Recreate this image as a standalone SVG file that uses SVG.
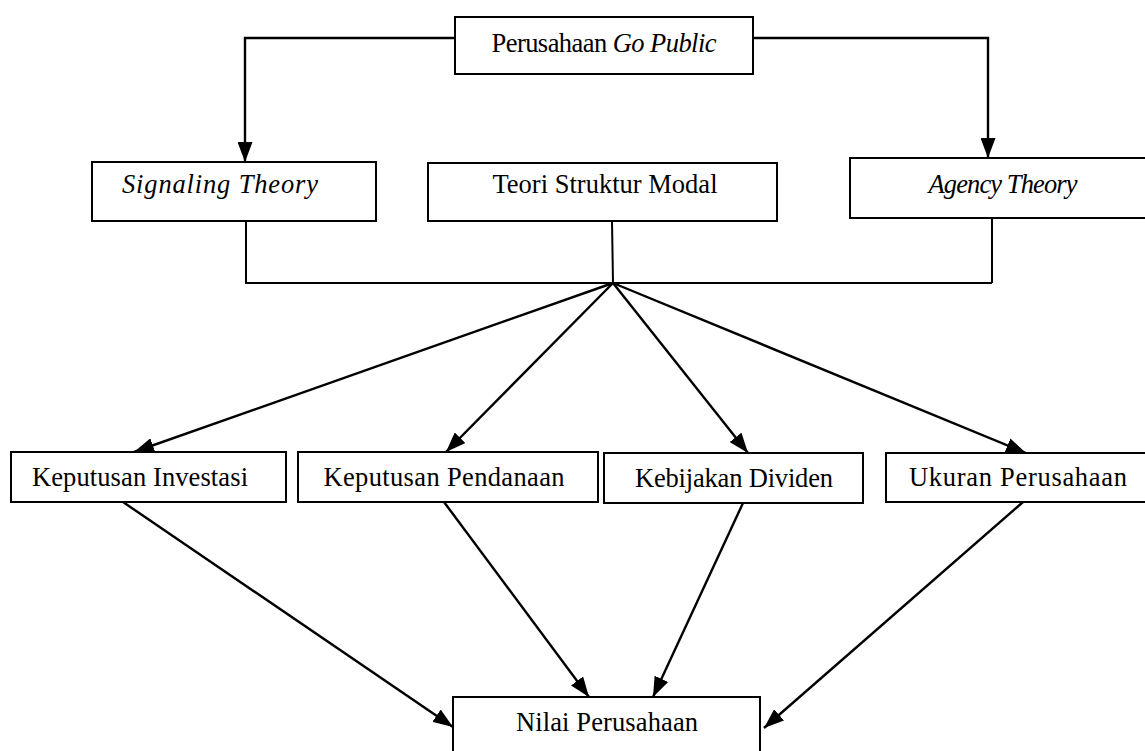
<svg xmlns="http://www.w3.org/2000/svg" width="1145" height="751" viewBox="0 0 1145 751">
<style>
.box{fill:#fff;stroke:#000;stroke-width:2}
.t{font-family:"Liberation Serif","Times New Roman",serif;font-size:26.5px;fill:#000;text-anchor:middle}
.i{font-style:italic}
.c{fill:none;stroke:#000;stroke-width:2}
.a{fill:none;stroke:#000;stroke-width:2.4;marker-end:url(#ah)}
</style>
<defs>
<marker id="ah" markerUnits="userSpaceOnUse" viewBox="0 0 20 15" markerWidth="20" markerHeight="15" refX="20" refY="7.5" orient="auto">
<path d="M0,0 L20,7.5 L0,15 z" fill="#000"/>
</marker>
</defs>
<rect width="1145" height="751" fill="#fff"/>
<g id="connectors">
<polyline class="a" points="455,38 245,38 245,162"/>
<polyline class="a" points="753,38 988,38 988,158"/>
<polyline class="c" points="246,222 246,283 992,283"/>
<line class="c" x1="992" y1="218" x2="992" y2="283"/>
<line class="c" x1="612" y1="221" x2="613" y2="283"/>
<line class="a" x1="613" y1="283" x2="134" y2="452"/>
<line class="a" x1="613" y1="283" x2="446" y2="452"/>
<line class="a" x1="613" y1="283" x2="748" y2="453"/>
<line class="a" x1="613" y1="283" x2="1026" y2="453"/>
<line class="a" x1="123" y1="502" x2="453" y2="727"/>
<line class="a" x1="444" y1="502" x2="589" y2="697"/>
<line class="a" x1="743" y1="503" x2="653" y2="697"/>
<line class="a" x1="1023" y1="502" x2="764" y2="728"/>
</g>
<g id="go-public">
<rect class="box" x="455" y="17" width="298" height="57"/>
<text class="t" x="604" y="52" textLength="225">Perusahaan <tspan class="i">Go Public</tspan></text>
</g>
<g id="signaling">
<rect class="box" x="92" y="162" width="284" height="59"/>
<text class="t i" x="220" y="193" textLength="196">Signaling Theory</text>
</g>
<g id="struktur-modal">
<rect class="box" x="428" y="163" width="349" height="58"/>
<text class="t" x="605" y="193" textLength="225">Teori Struktur Modal</text>
</g>
<g id="agency">
<rect class="box" x="850" y="158" width="306" height="60"/>
<text class="t i" x="1003" y="193" textLength="149">Agency Theory</text>
</g>
<g id="investasi">
<rect class="box" x="11" y="452" width="275" height="50"/>
<text class="t" x="140" y="486" textLength="216">Keputusan Investasi</text>
</g>
<g id="pendanaan">
<rect class="box" x="298" y="452" width="300" height="50"/>
<text class="t" x="444" y="486" textLength="241">Keputusan Pendanaan</text>
</g>
<g id="dividen">
<rect class="box" x="604" y="453" width="259" height="50"/>
<text class="t" x="734" y="487" textLength="198">Kebijakan Dividen</text>
</g>
<g id="ukuran">
<rect class="box" x="886" y="453" width="264" height="49"/>
<text class="t" x="1018" y="486" textLength="218">Ukuran Perusahaan</text>
</g>
<g id="nilai">
<rect class="box" x="453" y="697" width="307" height="70"/>
<text class="t" x="607" y="731" textLength="182">Nilai Perusahaan</text>
</g>
</svg>
